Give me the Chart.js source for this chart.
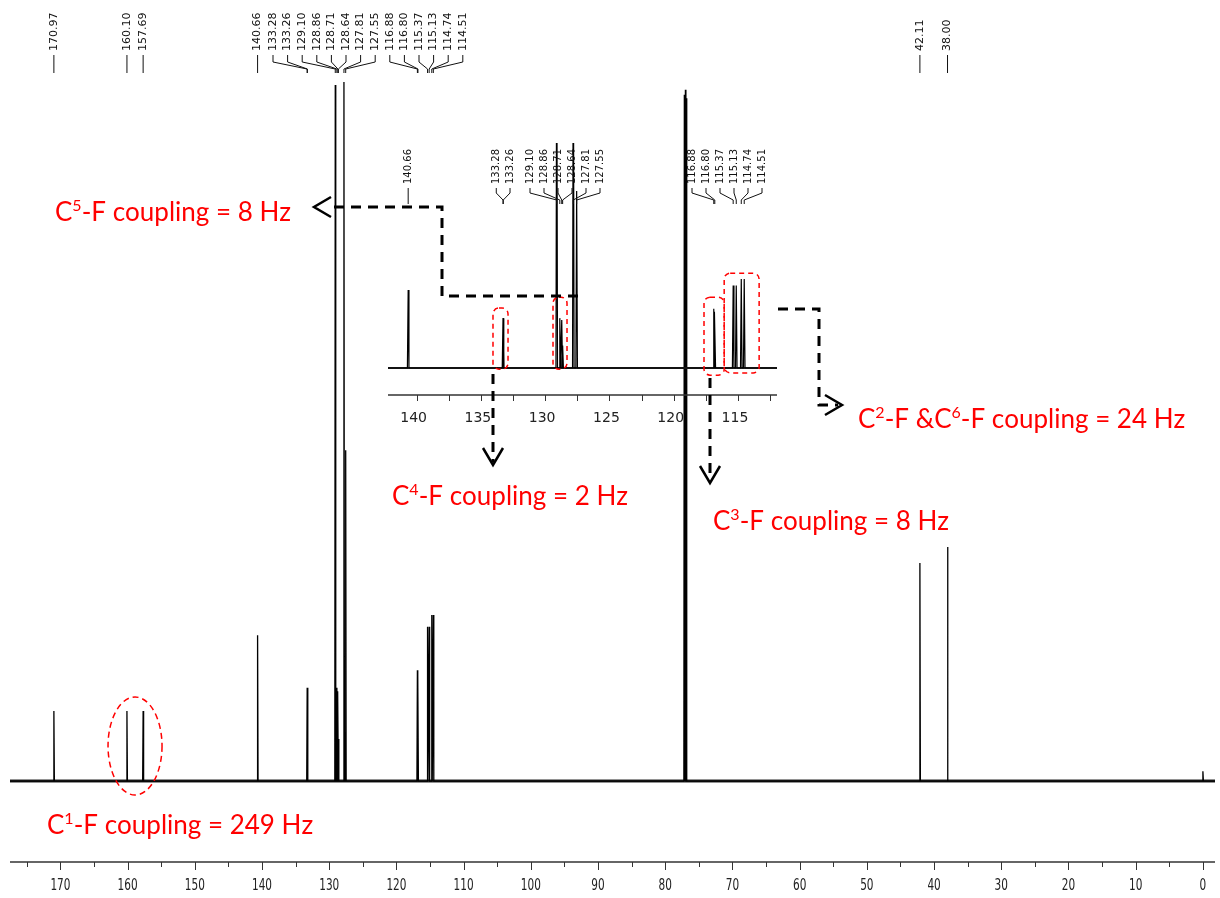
<!DOCTYPE html>
<html lang="en">
<head>
  <meta charset="UTF-8">
  <title>13C NMR spectrum</title>
  <script src="https://cdn.jsdelivr.net/npm/chart.js"></script>
  <style>
    body { margin: 0; background: #fff; }
    #wrap { position: relative; width: 1220px; height: 898px; }
    #wrap canvas { position: absolute; left: 0; top: 0; }
  </style>
</head>
<body>
<div id="wrap">
  <canvas id="spectrum" width="1220" height="898"></canvas>
  <canvas id="inset" width="1220" height="898"></canvas>
</div>
<script>
  // picked carbon shifts (ppm) and peak intensities (arbitrary units)
  const pickedPpm = [170.97, 160.10, 157.69, 140.66, 133.28, 133.26, 129.10, 128.86, 128.71, 128.64,
                     127.81, 127.55, 116.88, 116.80, 115.37, 115.13, 114.74, 114.51, 42.11, 38.00];
  const pickedHeight = [10.0, 10.0, 10.0, 20.8, 13.3, 13.3, 99.3, 13.3, 12.8, 6.0,
                        99.7, 47.2, 15.8, 15.0, 22.0, 22.0, 23.7, 23.7, 31.1, 33.4];
  // CDCl3 triplet and TMS (not labelled)
  const solventPpm = [77.16, 77.00, 76.84];
  const solventHeight = [97.9, 98.6, 97.4];
  const tmsPpm = [0.00];
  const tmsHeight = [1.4];

  const axisLabels = [170, 160, 150, 140, 130, 120, 110, 100, 90, 80, 70, 60, 50, 40, 30, 20, 10, 0];
  const insetAxisLabels = [140, 135, 130, 125, 120, 115];

  const notes = [
    { text: 'C^5-F coupling = 8 Hz', x: 55, y: 221 },
    { text: 'C^4-F coupling = 2 Hz', x: 392, y: 505 },
    { text: 'C^3-F coupling = 8 Hz', x: 713, y: 530 },
    { text: 'C^2-F &C^6-F coupling = 24 Hz', x: 858, y: 428 },
    { text: 'C^1-F coupling = 249 Hz', x: 47, y: 834 }
  ];

  const allPpm = pickedPpm.concat(solventPpm, tmsPpm);
  const allHeight = pickedHeight.concat(solventHeight, tmsHeight);

  // narrow triangular lines, highest ppm first
  function buildTrace(ppm, height, lo, hi, w) {
    const peaks = ppm.map((p, i) => ({ p, h: height[i] }))
      .filter(o => o.p >= lo && o.p <= hi)
      .sort((a, b) => b.p - a.p);
    const pts = [{ x: hi, y: 0 }];
    peaks.forEach(o => {
      pts.push({ x: o.p + w, y: 0 }, { x: o.p, y: o.h }, { x: o.p - w, y: 0 });
    });
    pts.push({ x: lo, y: 0 });
    return pts;
  }

  function drawPeakLabels(ctx, slots, font, textEnd, a, b, c, d) {
    ctx.save();
    ctx.font = font;
    ctx.fillStyle = '#111';
    ctx.strokeStyle = '#111';
    ctx.lineWidth = 1;
    ctx.textAlign = 'left';
    ctx.textBaseline = 'middle';
    slots.forEach(s => {
      ctx.save();
      ctx.translate(s.x, textEnd);
      ctx.rotate(-Math.PI / 2);
      ctx.fillText(s.p.toFixed(2), 0, 0);
      ctx.restore();
      ctx.beginPath();
      if (Math.abs(s.x - s.px) < 1) {
        ctx.moveTo(s.px, a);
        ctx.lineTo(s.px, d);
      } else {
        ctx.moveTo(s.x, a);
        ctx.lineTo(s.x, b);
        ctx.lineTo(s.px, c);
        ctx.lineTo(s.px, d);
      }
      ctx.stroke();
    });
    ctx.restore();
  }

  // text with ^x superscripts
  function richText(ctx, str, x, y, size) {
    ctx.save();
    ctx.fillStyle = '#ff0000';
    ctx.textBaseline = 'alphabetic';
    ctx.textAlign = 'left';
    let cx = x;
    for (let i = 0; i < str.length; i++) {
      if (str[i] === '^') {
        ctx.font = Math.round(size * 0.62) + 'px Lato';
        ctx.fillText(str[i + 1], cx, y - size * 0.4);
        cx += ctx.measureText(str[i + 1]).width;
        i++;
      } else {
        ctx.font = size + 'px Lato';
        ctx.fillText(str[i], cx, y);
        cx += ctx.measureText(str[i]).width;
      }
    }
    ctx.restore();
  }

  function dashedPath(ctx, pts) {
    ctx.save();
    ctx.strokeStyle = '#000';
    ctx.lineWidth = 3;
    ctx.setLineDash([10, 7]);
    ctx.beginPath();
    pts.forEach((p, i) => i ? ctx.lineTo(p[0], p[1]) : ctx.moveTo(p[0], p[1]));
    ctx.stroke();
    ctx.restore();
  }

  function chevron(ctx, x, y, dir) {
    const L = 17, H = 10;
    ctx.save();
    ctx.strokeStyle = '#000';
    ctx.lineWidth = 2.5;
    ctx.beginPath();
    if (dir === 'left') { ctx.moveTo(x + L, y - H); ctx.lineTo(x, y); ctx.lineTo(x + L, y + H); }
    if (dir === 'right') { ctx.moveTo(x - L, y - H); ctx.lineTo(x, y); ctx.lineTo(x - L, y + H); }
    if (dir === 'down') { ctx.moveTo(x - H, y - L); ctx.lineTo(x, y); ctx.lineTo(x + H, y - L); }
    ctx.stroke();
    ctx.restore();
  }

  function redBox(ctx, xs, ys, ppmHi, ppmLo, top, bottom) {
    const x0 = xs.getPixelForValue(ppmHi), x1 = xs.getPixelForValue(ppmLo);
    const y0 = ys.getPixelForValue(top), y1 = ys.getPixelForValue(bottom);
    ctx.save();
    ctx.strokeStyle = '#ff0000';
    ctx.lineWidth = 1.5;
    ctx.setLineDash([5, 4]);
    ctx.beginPath();
    ctx.roundRect(x0, y0, x1 - x0, y1 - y0, 6);
    ctx.stroke();
    ctx.restore();
  }

  const mainOverlay = {
    id: 'mainOverlay',
    afterDraw(chart) {
      const ctx = chart.ctx, xs = chart.scales.x, ys = chart.scales.y, area = chart.chartArea;
      ctx.save();
      // ppm axis
      ctx.strokeStyle = '#333';
      ctx.lineWidth = 1.5;
      ctx.beginPath();
      ctx.moveTo(area.left, area.bottom);
      ctx.lineTo(area.right, area.bottom);
      ctx.stroke();
      ctx.lineWidth = 1;
      for (let v = 175; v >= 0; v -= 5) {
        const x = Math.round(xs.getPixelForValue(v)) + 0.5;
        ctx.beginPath();
        ctx.moveTo(x, area.bottom);
        ctx.lineTo(x, area.bottom + (v % 10 === 0 ? 8 : 5));
        ctx.stroke();
      }
      ctx.fillStyle = '#222';
      ctx.font = '15px "DejaVu Sans"';
      ctx.textAlign = 'center';
      ctx.textBaseline = 'middle';
      axisLabels.forEach(v => {
        ctx.save();
        ctx.translate(xs.getPixelForValue(v), area.bottom + 24);
        ctx.scale(0.7, 1);
        ctx.fillText(String(v), 0, 0);
        ctx.restore();
      });
      ctx.restore();

      // peak pick labels along the top
      const slots = pickedPpm.map((p, i) => {
        const px = xs.getPixelForValue(p);
        return { p, px, x: (i >= 4 && i <= 17) ? 273 + (i - 4) * 14.6 : px };
      });
      drawPeakLabels(ctx, slots, '11px "DejaVu Sans"', 51, 55, 62, 69, 73);

      // C-F doublet circled
      ctx.save();
      ctx.strokeStyle = '#ff0000';
      ctx.lineWidth = 1.5;
      ctx.setLineDash([6, 4]);
      ctx.beginPath();
      ctx.ellipse(xs.getPixelForValue((160.10 + 157.69) / 2), ys.getPixelForValue(5), 27, 49, 0, 0, Math.PI * 2);
      ctx.stroke();
      ctx.restore();

      const n = notes[4];
      richText(ctx, n.text, n.x, n.y, 26);
    }
  };

  const insetOverlay = {
    id: 'insetOverlay',
    afterDraw(chart) {
      const ctx = chart.ctx, xs = chart.scales.x, ys = chart.scales.y, area = chart.chartArea;
      ctx.save();
      ctx.strokeStyle = '#333';
      ctx.lineWidth = 1.5;
      ctx.beginPath();
      ctx.moveTo(area.left, area.bottom);
      ctx.lineTo(area.right, area.bottom);
      ctx.stroke();
      ctx.lineWidth = 1;
      for (let v = 140; v >= 112.5; v -= 2.5) {
        const x = Math.round(xs.getPixelForValue(v)) + 0.5;
        ctx.beginPath();
        ctx.moveTo(x, area.bottom);
        ctx.lineTo(x, area.bottom + 6);
        ctx.stroke();
      }
      ctx.fillStyle = '#222';
      ctx.font = '14px "DejaVu Sans"';
      ctx.textAlign = 'center';
      ctx.textBaseline = 'middle';
      insetAxisLabels.forEach(v => ctx.fillText(String(v), xs.getPixelForValue(v) - 3, area.bottom + 23));
      ctx.restore();

      const slots = [];
      pickedPpm.forEach((p, i) => {
        if (p < xs.min || p > xs.max) return;
        const px = xs.getPixelForValue(p);
        let x = px;
        if (i === 4) x = px - 6.75;
        if (i === 5) x = px + 6.75;
        if (i >= 6 && i <= 11) x = 530 + (i - 6) * 14;
        if (i >= 12 && i <= 17) x = 692 + (i - 12) * 14;
        slots.push({ p, px, x });
      });
      drawPeakLabels(ctx, slots, '10px "DejaVu Sans"', 184, 188, 193, 200, 204);

      redBox(ctx, xs, ys, 134.06, 132.89, 16, -0.3);
      redBox(ctx, xs, ys, 129.39, 128.30, 18.9, -0.3);
      redBox(ctx, xs, ys, 117.64, 116.07, 18.9, -1.9);
      redBox(ctx, xs, ys, 116.07, 113.35, 25.3, -1.3);

      // arrows from the boxes to the notes
      dashedPath(ctx, [[578, 296], [442, 296], [442, 207], [333, 207]]);
      chevron(ctx, 314, 207, 'left');
      dashedPath(ctx, [[493, 374], [493, 462]]);
      chevron(ctx, 493, 465, 'down');
      dashedPath(ctx, [[710, 378], [710, 480]]);
      chevron(ctx, 710, 483, 'down');
      dashedPath(ctx, [[778, 309], [819, 309], [819, 405], [838, 405]]);
      chevron(ctx, 842, 405, 'right');

      notes.slice(0, 4).forEach(n => richText(ctx, n.text, n.x, n.y, 26));
    }
  };

  new Chart(document.getElementById('spectrum'), {
    type: 'line',
    data: {
      datasets: [
        { data: buildTrace(allPpm, allHeight, -1.8, 177.5, 0.07), borderColor: '#000', borderWidth: 1.3, pointRadius: 0 },
        { data: [{ x: 177.5, y: 0 }, { x: -1.8, y: 0 }], borderColor: '#262626', borderWidth: 3, pointRadius: 0 }
      ]
    },
    options: {
      responsive: false,
      animation: false,
      layout: { padding: { left: 10, right: 5, top: 80, bottom: 36 } },
      plugins: { legend: { display: false }, tooltip: { enabled: false } },
      scales: {
        x: { type: 'linear', min: -1.8, max: 177.5, reverse: true, display: false },
        y: { min: -11.55, max: 100, display: false }
      }
    },
    plugins: [mainOverlay]
  });

  new Chart(document.getElementById('inset'), {
    type: 'line',
    data: {
      datasets: [
        { data: buildTrace(pickedPpm, pickedHeight, 111.96, 142.23, 0.06), borderColor: '#000', borderWidth: 1.2, pointRadius: 0 },
        { data: [{ x: 142.23, y: 0 }, { x: 111.96, y: 0 }], borderColor: '#262626', borderWidth: 2, pointRadius: 0 }
      ]
    },
    options: {
      responsive: false,
      animation: false,
      layout: { padding: { left: 388, right: 443, top: 143, bottom: 503 } },
      plugins: { legend: { display: false }, tooltip: { enabled: false } },
      scales: {
        x: { type: 'linear', min: 111.96, max: 142.23, reverse: true, display: false },
        y: { min: -7.2, max: 60, display: false }
      }
    },
    plugins: [insetOverlay]
  });
</script>
</body>
</html>
